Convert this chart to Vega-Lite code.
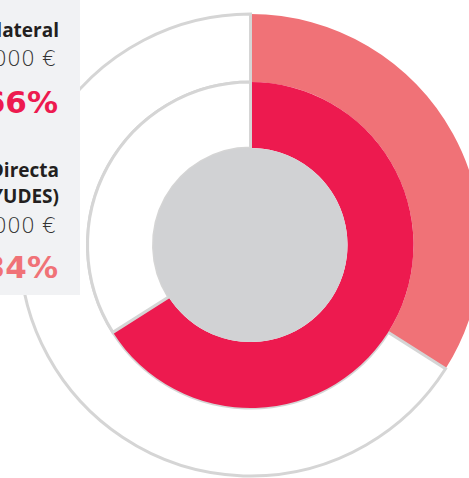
{
  "$schema": "https://vega.github.io/schema/vega-lite/v6.json",
  "width": 501,
  "height": 490,
  "autosize": {"type": "none"},
  "padding": 0,
  "background": "#ffffff",
  "view": {"stroke": null},
  "config": {"font": "Open Sans"},
  "resolve": {"scale": {"y": "independent"}},
  "datasets": {
    "anillos": [
      {"anillo": "exterior", "tramo": "Directa", "valor": 34, "orden": 1},
      {"anillo": "exterior", "tramo": "resto", "valor": 66, "orden": 2},
      {"anillo": "interior", "tramo": "Colateral", "valor": 66, "orden": 1},
      {"anillo": "interior", "tramo": "resto", "valor": 34, "orden": 2},
      {"anillo": "centro", "tramo": "centro", "valor": 100, "orden": 1}
    ],
    "panel": [
      {"grupo": "Colateral", "nombre": "Colateral", "importe": "1.300.000 €", "pct": "66%"},
      {"grupo": "Directa", "nombre": "Directa\n(AYUDES)", "importe": "700.000 €", "pct": "34%"}
    ]
  },
  "layer": [
    {
      "data": {"name": "anillos"},
      "transform": [{"filter": "datum.anillo === 'exterior'"}],
      "mark": {"type": "arc", "innerRadius": 163, "outerRadius": 231, "strokeWidth": 3},
      "encoding": {
        "theta": {"field": "valor", "type": "quantitative", "stack": true},
        "order": {"field": "orden", "type": "quantitative"},
        "color": {"field": "tramo", "type": "nominal", "legend": null,
          "scale": {"domain": ["Directa", "Colateral", "resto", "centro"], "range": ["#F07277", "#ED1A4F", "#FFFFFF", "#D1D2D4"]}},
        "stroke": {"condition": {"test": "datum.tramo === 'resto'", "value": "#D5D5D5"}, "value": "transparent"}
      }
    },
    {
      "data": {"name": "anillos"},
      "transform": [{"filter": "datum.anillo === 'interior'"}],
      "mark": {"type": "arc", "innerRadius": 97, "outerRadius": 163, "strokeWidth": 3},
      "encoding": {
        "theta": {"field": "valor", "type": "quantitative", "stack": true},
        "order": {"field": "orden", "type": "quantitative"},
        "color": {"field": "tramo", "type": "nominal", "legend": null},
        "stroke": {"condition": {"test": "datum.tramo === 'resto'", "value": "#D5D5D5"}, "value": "transparent"}
      }
    },
    {
      "data": {"name": "anillos"},
      "transform": [{"filter": "datum.anillo === 'centro'"}],
      "mark": {"type": "arc", "outerRadius": 97},
      "encoding": {
        "theta": {"field": "valor", "type": "quantitative", "stack": true},
        "color": {"field": "tramo", "type": "nominal", "legend": null}
      }
    },
    {
      "data": {"values": [{"panel": "fondo"}]},
      "mark": {"type": "rect", "color": "#F1F2F4"},
      "encoding": {
        "x": {"value": 0}, "x2": {"value": 80},
        "y": {"value": 0}, "y2": {"value": 295}
      }
    },
    {
      "data": {"name": "panel"},
      "mark": {"type": "text", "align": "right", "baseline": "alphabetic", "fontSize": 19, "fontWeight": "bold", "lineHeight": 26, "lineBreak": "\n", "color": "#231F20"},
      "encoding": {
        "x": {"value": 59},
        "y": {"field": "grupo", "type": "nominal", "axis": null, "scale": {"type": "point", "padding": 0, "domain": ["Colateral", "Directa"], "range": [37, 177]}},
        "text": {"field": "nombre"}
      }
    },
    {
      "data": {"name": "panel"},
      "mark": {"type": "text", "align": "right", "baseline": "alphabetic", "font": "DejaVu Sans", "fontSize": 22, "fontWeight": 200, "color": "#333333"},
      "encoding": {
        "x": {"value": 56},
        "y": {"field": "grupo", "type": "nominal", "axis": null, "scale": {"type": "point", "padding": 0, "domain": ["Colateral", "Directa"], "range": [66, 233]}},
        "text": {"field": "importe"}
      }
    },
    {
      "data": {"name": "panel"},
      "mark": {"type": "text", "align": "right", "baseline": "alphabetic", "font": "DejaVu Sans", "fontSize": 31, "fontWeight": "bold"},
      "encoding": {
        "x": {"value": 58},
        "y": {"field": "grupo", "type": "nominal", "axis": null, "scale": {"type": "point", "padding": 0, "domain": ["Colateral", "Directa"], "range": [113, 278]}},
        "color": {"field": "grupo", "type": "nominal", "legend": null},
        "text": {"field": "pct"}
      }
    }
  ]
}
